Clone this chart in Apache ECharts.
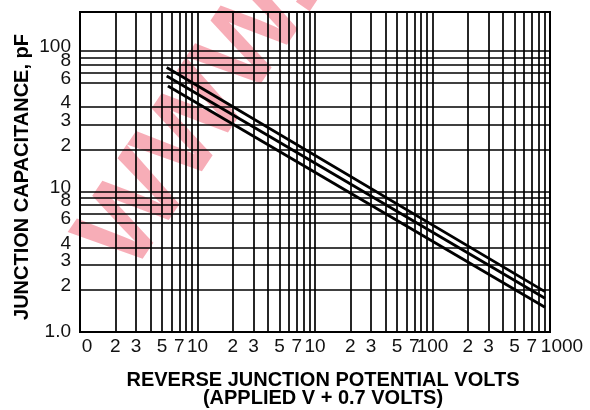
<!DOCTYPE html>
<html>
<head>
<meta charset="utf-8">
<script src="https://cdn.jsdelivr.net/npm/echarts@6/dist/echarts.min.js"></script>
<style>
html,body{margin:0;padding:0;background:#fff;}
#chart{width:590px;height:410px;}
</style>
</head>
<body>
<div id="chart"></div>
<script>
// ---- Data (log-log) ----
const seriesNames = ['upper', 'middle', 'lower'];
const upperLine = [[0.547, 76.5], [906, 1.94]];
const middleLine = [[0.547, 66.6], [906, 1.74]];
const lowerLine = [[0.56, 56.5], [906, 1.50]];

// axis range
const xRange = [0.1, 1000];
const yRange = [1, 190];

// grid lines
const xGridValues = [0.1,0.2,0.3,0.4,0.5,0.6,0.7,0.8,0.9,1,2,3,4,5,6,7,8,9,10,20,30,40,50,60,70,80,90,100,200,300,400,500,600,700,800,900,1000];
const yGridValues = [1,2,3,4,6,7,8,9,10,20,30,40,60,70,80,90,100];

// tick labels
const xTickValues = [0.1,0.2,0.3,0.5,0.7,1,2,3,5,7,10,20,30,50,70,100,200,300,500,700,1000];
const xTickLabels = ['0','2','3','5','7','10','2','3','5','7','10','2','3','5','7','100','2','3','5','7','1000'];
const yTickValues = [1,2,3,4,6,8,10,20,30,40,60,80,100];
const yTickLabels = ['1.0','2','3','4','6','8','10','2','3','4','6','8','100'];

const xTitle = ['REVERSE JUNCTION POTENTIAL VOLTS', '(APPLIED V + 0.7 VOLTS)'];
const yTitle = 'JUNCTION CAPACITANCE, pF';
const watermark = 'WWW.';

// ---- build ----
const FONT = '"Liberation Sans", Arial, Helvetica, sans-serif';
const gridLineStyle = {color: '#000', width: 1.7, type: 'solid'};
const labelBase = {color: '#111', fontSize: 19, fontFamily: FONT};

const gridMarks = [];
xGridValues.forEach(v => {
  const i = xTickValues.indexOf(v);
  let label = {show: false};
  if (i >= 0) {
    let off = [0, 0];
    if (i === 0) off = [7, 0];
    if (i === xTickValues.length - 1) off = [12, 0];
    label = Object.assign({show: true, position: 'start', distance: 5, formatter: xTickLabels[i], offset: off}, labelBase);
  }
  gridMarks.push({xAxis: v, label: label});
});
yGridValues.forEach(v => {
  const i = yTickValues.indexOf(v);
  let label = {show: false};
  if (i >= 0) {
    const off = i === 0 ? [0, 0] : [0, -4];
    label = Object.assign({show: true, position: 'start', distance: 9, formatter: yTickLabels[i], offset: off}, labelBase);
  }
  gridMarks.push({yAxis: v, label: label});
});

const dataLines = [upperLine, middleLine, lowerLine].map((d, i) => ({
  name: seriesNames[i],
  type: 'line',
  data: d,
  showSymbol: false,
  symbol: 'none',
  z: 5,
  lineStyle: {color: '#000', width: 2.8},
  silent: true
}));

dataLines.push({
  name: 'grid',
  type: 'line',
  data: [],
  z: 3,
  silent: true,
  markLine: {
    silent: true,
    symbol: ['none', 'none'],
    animation: false,
    lineStyle: gridLineStyle,
    data: gridMarks
  }
});

const chart = echarts.init(document.getElementById('chart'), null, {renderer: 'canvas'});
chart.setOption({
  animation: false,
  backgroundColor: '#fff',
  grid: {left: 80, right: 40, top: 12, bottom: 78, show: true, borderColor: '#000', borderWidth: 2, backgroundColor: 'transparent'},
  xAxis: {
    type: 'log', logBase: 10, min: xRange[0], max: xRange[1],
    axisLine: {show: false}, axisTick: {show: false}, axisLabel: {show: false}, splitLine: {show: false}
  },
  yAxis: {
    type: 'log', logBase: 10, min: yRange[0], max: yRange[1],
    axisLine: {show: false}, axisTick: {show: false}, axisLabel: {show: false}, splitLine: {show: false}
  },
  series: dataLines,
  graphic: {elements: [
    {type: 'text', z: -10, x: 106, y: 258, rotation: 56 * Math.PI / 180,
      style: {text: watermark, fontSize: 112, fontWeight: 'bold', fontFamily: FONT, fill: 'rgba(235,40,65,0.38)', textAlign: 'left', textVerticalAlign: 'middle'}},
    {type: 'text', x: 323, y: 380,
      style: {text: xTitle[0], fontSize: 20, fontWeight: 'bold', fontFamily: FONT, fill: '#000', textAlign: 'center', textVerticalAlign: 'middle'}},
    {type: 'text', x: 323, y: 398,
      style: {text: xTitle[1], fontSize: 20, fontWeight: 'bold', fontFamily: FONT, fill: '#000', textAlign: 'center', textVerticalAlign: 'middle'}},
    {type: 'text', x: 22, y: 177, rotation: Math.PI / 2,
      style: {text: yTitle, fontSize: 20, fontWeight: 'bold', fontFamily: FONT, fill: '#000', textAlign: 'center', textVerticalAlign: 'middle'}}
  ]}
});
</script>
</body>
</html>
